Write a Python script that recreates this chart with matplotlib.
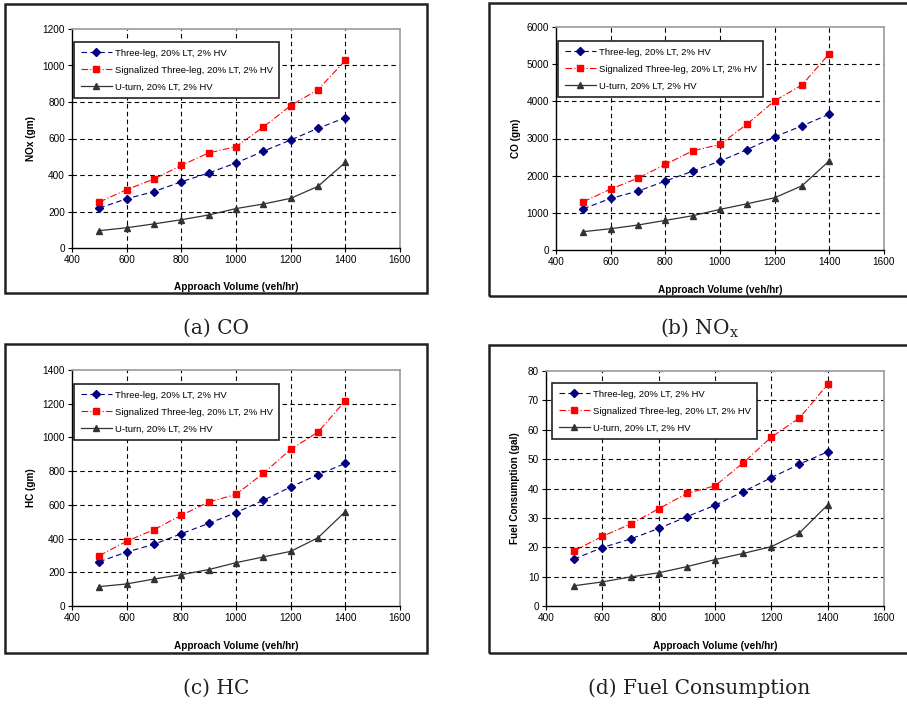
import matplotlib.pyplot as plt
from matplotlib.patches import Rectangle

plt.rcParams['font.family'] = ['Liberation Sans', 'DejaVu Sans']

volume = [500, 600, 700, 800, 900, 1000, 1100, 1200, 1300, 1400]
labels = ['Three-leg, 20% LT, 2% HV',
          'Signalized Three-leg, 20% LT, 2% HV',
          'U-turn, 20% LT, 2% HV']

# panel (a) - NOx
nox_three = [219, 270, 309, 363, 411, 466, 530, 592, 656, 714]
nox_signal = [252, 320, 378, 453, 521, 555, 663, 780, 868, 1028]
nox_uturn = [95, 111, 132, 155, 181, 216, 241, 272, 338, 469]

# panel (b) - CO
co_three = [1110, 1388, 1585, 1854, 2122, 2391, 2704, 3045, 3340, 3654]
co_signal = [1298, 1639, 1934, 2301, 2669, 2839, 3394, 4012, 4442, 5284]
co_uturn = [493, 573, 672, 797, 922, 1093, 1245, 1406, 1728, 2400]

# panel (c) - HC
hc_three = [263, 320, 366, 429, 490, 554, 627, 706, 779, 846]
hc_signal = [299, 384, 453, 538, 617, 662, 787, 929, 1032, 1218]
hc_uturn = [115, 131, 160, 186, 216, 257, 291, 324, 405, 560]

# panel (d) - fuel
fuel_three = [16.0, 19.9, 22.8, 26.4, 30.4, 34.3, 38.9, 43.7, 48.3, 52.5]
fuel_signal = [18.8, 23.7, 27.9, 33.1, 38.3, 40.9, 48.7, 57.5, 64.0, 75.5]
fuel_uturn = [6.9, 8.2, 9.9, 11.3, 13.4, 15.8, 17.9, 20.2, 24.9, 34.4]

xticks = [400, 600, 800, 1000, 1200, 1400, 1600]

W, H = 907, 706
fig = plt.figure(figsize=(W / 100, H / 100), dpi=100)


def px(l, t, r, b):
    # pixel box -> figure fraction [left, bottom, width, height]
    return [l / W, 1 - b / H, (r - l) / W, (b - t) / H]


def panel(rect, box, leg, series, yticks, ylabel, caption, cap_xy, xlab_y, ylab_x):
    # outer frame
    bl, bt, br, bb = box
    fig.patches.append(Rectangle((bl / W, 1 - bb / H), (br - bl) / W, (bb - bt) / H,
                                 transform=fig.transFigure, fill=False,
                                 edgecolor='#222222', linewidth=1.8, zorder=0))
    ax = fig.add_axes(px(*rect))
    three, signal, uturn = series

    # dashed grid, edge lines left to the spines
    for v in xticks[1:-1]:
        ax.axvline(v, color='black', linestyle=(0, (4, 3)), linewidth=0.8, zorder=1)
    for v in yticks[1:-1]:
        ax.axhline(v, color='black', linestyle=(0, (4, 3)), linewidth=0.8, zorder=1)

    ax.plot(volume, three, color='#000080', linestyle=(0, (5, 3)), linewidth=0.8,
            marker='D', markersize=3.8, label=labels[0], zorder=3)
    ax.plot(volume, signal, color='#ff0000', linestyle=(0, (6, 2, 1, 2)), linewidth=0.8,
            marker='s', markersize=4.8, label=labels[1], zorder=3)
    ax.plot(volume, uturn, color='#333333', linestyle='-', linewidth=0.9,
            marker='^', markersize=4.8, label=labels[2], zorder=3)

    ax.set_xlim(400, 1600)
    ax.set_ylim(yticks[0], yticks[-1])
    ax.set_xticks(xticks)
    ax.set_yticks(yticks)
    ax.tick_params(direction='out', length=3, width=0.8, labelsize=7.2, pad=2)

    for s in ['top', 'right']:
        ax.spines[s].set_color('#999999')
        ax.spines[s].set_linestyle((0, (3, 1)))
        ax.spines[s].set_linewidth(1.2)
    for s in ['left', 'bottom']:
        ax.spines[s].set_color('black')
        ax.spines[s].set_linewidth(1.0)

    l, t, r, b = rect
    ax.set_xlabel('Approach Volume (veh/hr)', fontsize=7.2, fontweight='bold')
    ax.set_ylabel(ylabel, fontsize=7.2, fontweight='bold')
    ax.xaxis.set_label_coords(0.5, -(xlab_y - b) / (b - t))
    ax.yaxis.set_label_coords(-(l - ylab_x) / (r - l), 0.5)

    ll, lt = leg
    lg = ax.legend(loc='upper left', bbox_to_anchor=(ll / W, 1 - lt / H),
                   bbox_transform=fig.transFigure, borderaxespad=0,
                   fontsize=6.8, handlelength=3.3, handletextpad=0.3,
                   labelspacing=0.85, borderpad=0.7, fancybox=False,
                   framealpha=1, edgecolor='#222222')
    lg.get_frame().set_linewidth(1.2)
    lg.set_zorder(5)

    fig.text(cap_xy[0] / W, 1 - cap_xy[1] / H, caption, ha='center', va='center',
             fontsize=14.5, family='DejaVu Serif', color='#222222')
    return ax


panel((72, 29, 400, 248), (5, 4, 427, 293), (74, 42),
      (nox_three, nox_signal, nox_uturn), [0, 200, 400, 600, 800, 1000, 1200],
      'NOx (gm)', '(a) CO', (216, 328), 282, 36)

panel((556, 27, 884, 250), (489, 3, 912, 296), (558, 41),
      (co_three, co_signal, co_uturn), [0, 1000, 2000, 3000, 4000, 5000, 6000],
      'CO (gm)', '(b) NO$_\\mathregular{x}$', (700, 328), 285, 521)

panel((72, 370, 400, 606), (5, 344, 427, 653), (74, 384),
      (hc_three, hc_signal, hc_uturn), [0, 200, 400, 600, 800, 1000, 1200, 1400],
      'HC (gm)', '(c) HC', (216, 688), 641, 36)

panel((546, 371, 884, 606), (489, 345, 912, 653), (552, 383),
      (fuel_three, fuel_signal, fuel_uturn), [0, 10, 20, 30, 40, 50, 60, 70, 80],
      'Fuel Consumption (gal)', '(d) Fuel Consumption', (699, 688), 641, 520)

fig.savefig('out.png', dpi=100)
